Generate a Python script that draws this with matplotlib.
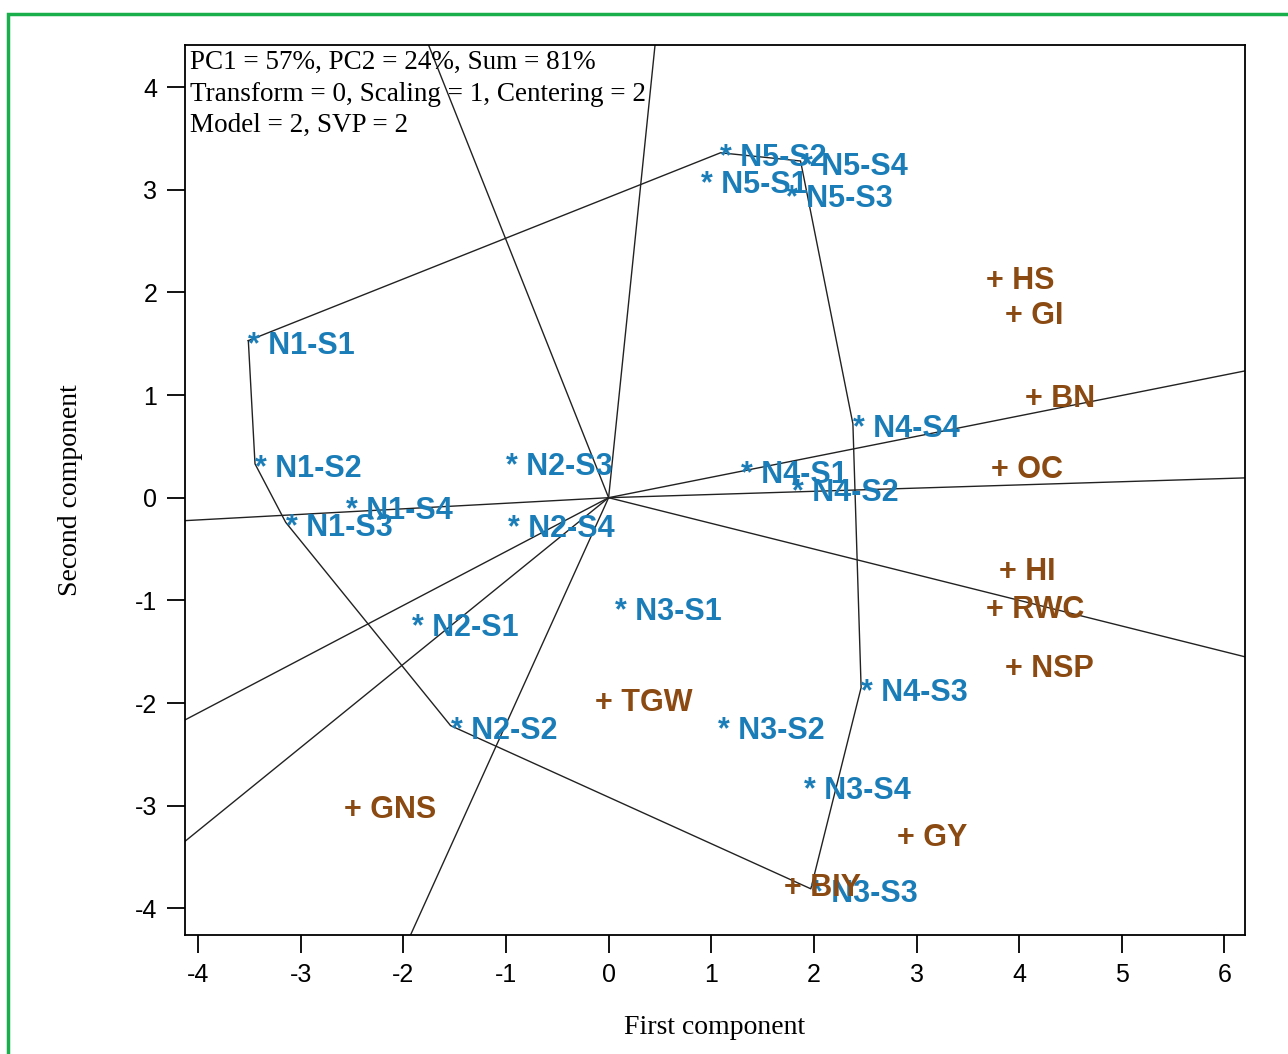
import numpy as np
import matplotlib
matplotlib.use("Agg")
import matplotlib.pyplot as plt
from matplotlib.patches import Rectangle

plt.rcParams['axes.unicode_minus'] = False

# genotype scores (PC1, PC2)
gen_names = ['N1-S1', 'N1-S2', 'N1-S3', 'N1-S4',
             'N2-S1', 'N2-S2', 'N2-S3', 'N2-S4',
             'N3-S1', 'N3-S2', 'N3-S3', 'N3-S4',
             'N4-S1', 'N4-S2', 'N4-S3', 'N4-S4',
             'N5-S1', 'N5-S2', 'N5-S3', 'N5-S4']
gen_x = [-3.51, -3.445, -3.146, -2.56,
         -1.92, -1.54, -1.00, -0.98,
         0.06, 1.07, 1.97, 1.90,
         1.29, 1.79, 2.46, 2.38,
         0.90, 1.09, 1.73, 1.87]
gen_y = [1.53, 0.33, -0.24, -0.08,
         -1.22, -2.22, 0.35, -0.25,
         -1.06, -2.22, -3.81, -2.80,
         0.28, 0.10, -1.85, 0.72,
         3.10, 3.36, 2.96, 3.28]

# trait scores
trait_names = ['HS', 'GI', 'BN', 'OC', 'HI', 'RWC', 'NSP', 'GY', 'BIY', 'TGW', 'GNS']
trait_x = [3.76, 3.94, 4.14, 3.81, 3.88, 3.76, 3.94, 2.89, 1.79, -0.05, -2.50]
trait_y = [2.15, 1.81, 1.00, 0.31, -0.68, -1.05, -1.63, -3.27, -3.76, -1.96, -3.00]

# convex hull (which-won-where polygon)
hull = ['N1-S1', 'N1-S2', 'N1-S3', 'N2-S2', 'N3-S3',
        'N4-S3', 'N4-S4', 'N5-S4', 'N5-S2']

info_text = ("PC1 = 57%, PC2 = 24%, Sum = 81%\n"
             "Transform = 0, Scaling = 1, Centering = 2\n"
             "Model = 2, SVP = 2")

BLUE = '#1b7db8'
BROWN = '#8a4a12'
LINE = '#222222'

fig = plt.figure(figsize=(12.88, 10.54), dpi=100)
ax = fig.add_axes([185 / 1288, 1 - 935 / 1054, 1060 / 1288, 890 / 1054])

pts = {n: np.array([x, y]) for n, x, y in zip(gen_names, gen_x, gen_y)}
poly = np.array([pts[n] for n in hull + hull[:1]])
ax.plot(poly[:, 0], poly[:, 1], color=LINE, lw=1.0, zorder=2)

# rays from origin perpendicular to each polygon side
for p, q in zip(poly[:-1], poly[1:]):
    d = q - p
    t = -np.dot(p, d) / np.dot(d, d)
    foot = p + t * d
    foot = foot / np.linalg.norm(foot) * 30
    ax.plot([0, foot[0]], [0, foot[1]], color=LINE, lw=1.0, zorder=2)

for n, x, y in zip(gen_names, gen_x, gen_y):
    ax.annotate('* ' + n, (x, y), xytext=(0, -4), textcoords='offset points',
                ha='left', va='center', color=BLUE, fontsize=22,
                fontweight='bold', family='Liberation Sans', zorder=3)

for n, x, y in zip(trait_names, trait_x, trait_y):
    ax.annotate('+ ' + n, (x, y), xytext=(-6, -3), textcoords='offset points',
                ha='left', va='center', color=BROWN, fontsize=22,
                fontweight='bold', family='Liberation Sans', zorder=3)

ax.text(5 / 1060, 1 - 5 / 890, info_text, transform=ax.transAxes,
        ha='left', va='top', fontsize=19.5, family='Liberation Serif',
        linespacing=1.35)

ax.set_xlim(-4.127, 6.2)
ax.set_ylim(-4.26, 4.41)
ax.set_xticks(range(-4, 7))
ax.set_yticks(range(-4, 5))
ax.tick_params(direction='out', length=13, width=1.3, labelsize=18, pad=7)
for lab in ax.get_xticklabels() + ax.get_yticklabels():
    lab.set_family('Liberation Sans')
for s in ax.spines.values():
    s.set_linewidth(1.3)

ax.set_xlabel('First component', family='Liberation Serif', fontsize=20, labelpad=20)
ax.set_ylabel('Second component', family='Liberation Serif', fontsize=20, labelpad=37)

# green frame around the figure
fig.patches.append(Rectangle((8 / 1288, -0.1), 1.2, 1 - 14 / 1054 + 0.1,
                             transform=fig.transFigure, fill=False,
                             edgecolor='#19b04b', lw=2.5))

fig.savefig('out.png', dpi=100)
